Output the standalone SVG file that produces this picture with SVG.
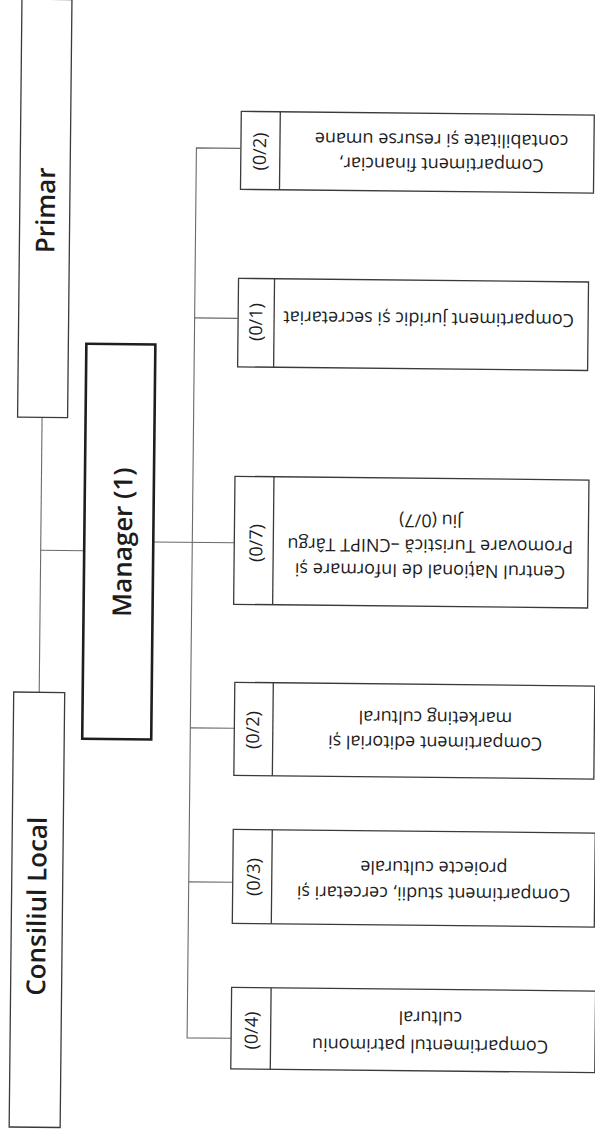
<svg xmlns="http://www.w3.org/2000/svg" width="595" height="1134" viewBox="0 0 595 1134">
<style>
.box{fill:#fff;stroke:#3a3a3a;stroke-width:1.3}
.mgr{fill:#fff;stroke:#1e1e1e;stroke-width:2.6}
.ln{stroke:#6a6a6a;stroke-width:1.1;fill:none}
.t{font-family:"Open Sans","Liberation Sans",sans-serif;font-size:18px;fill:#1c1c1c;text-anchor:middle}
.b{font-weight:600;font-size:26px}
</style>
<rect width="595" height="1134" fill="#fff"/>
<g transform="rotate(0.6 300 570)">
<g id="connectors">
<line class="ln" x1="40.5" y1="420" x2="40.5" y2="695"/>
<line class="ln" x1="40.5" y1="553" x2="84" y2="553"/>
<line class="ln" x1="153" y1="543.5" x2="234" y2="543.5"/>
<polyline class="ln" points="236,149 192,149 192,1039 236,1039"/>
<line class="ln" x1="192" y1="319" x2="235" y2="319"/>
<line class="ln" x1="192" y1="729" x2="236" y2="729"/>
<line class="ln" x1="192" y1="883" x2="236" y2="883"/>
</g>
<g id="primar">
<rect class="box" x="16" y="2" width="50" height="418"/>
<text class="t b" transform="translate(42 213) rotate(-90)" y="9">Primar</text>
</g>
<g id="consiliul-local">
<rect class="box" x="15" y="695" width="51" height="435"/>
<text class="t b" transform="translate(40.5 909) rotate(-90)" y="9">Consiliul Local</text>
</g>
<g id="manager">
<rect class="mgr" x="84" y="346" width="69" height="395"/>
<text class="t b" transform="translate(122.5 544) rotate(-90)" y="9">Manager (1)</text>
</g>
<g id="financiar">
<rect class="box" x="236.5" y="112" width="353" height="78"/>
<line class="box" x1="275.5" y1="112" x2="275.5" y2="190"/>
<text class="t" transform="translate(255.6 152) rotate(-90)" y="6">(0/2)</text>
<g transform="rotate(180 437 150)">
<text class="t" x="437" y="143">Compartiment financiar,</text>
<text class="t" x="437" y="167.5">contabilitate și resurse umane</text>
</g>
</g>
<g id="juridic">
<rect class="box" x="235.5" y="279" width="350" height="88.5"/>
<line class="box" x1="271.5" y1="279" x2="271.5" y2="367.5"/>
<text class="t" transform="translate(253.5 322.5) rotate(-90)" y="6">(0/1)</text>
<g transform="rotate(180 426 317)">
<text class="t" x="426" y="322.5">Compartiment juridic și secretariat</text>
</g>
</g>
<g id="cnipt">
<rect class="box" x="234" y="477" width="354" height="128"/>
<line class="box" x1="273" y1="477" x2="273" y2="605"/>
<text class="t" transform="translate(256 543.5) rotate(-90)" y="6">(0/7)</text>
<g transform="rotate(180 430 543.6)">
<text class="t" x="430" y="524">Centrul Național de Informare și</text>
<text class="t" x="430" y="549">Promovare Turistică –CNIPT Târgu</text>
<text class="t" x="430" y="574">Jiu (0/7)</text>
</g>
</g>
<g id="editorial">
<rect class="box" x="236" y="683" width="360" height="93"/>
<line class="box" x1="274.5" y1="683" x2="274.5" y2="776"/>
<text class="t" transform="translate(254.7 730.5) rotate(-90)" y="6">(0/2)</text>
<g transform="rotate(180 437 728.1)">
<text class="t" x="437" y="721">Compartiment editorial și</text>
<text class="t" x="437" y="746">marketing cultural</text>
</g>
</g>
<g id="studii">
<rect class="box" x="236" y="830" width="362" height="94"/>
<line class="box" x1="275" y1="830" x2="275" y2="924"/>
<text class="t" transform="translate(257 877.5) rotate(-90)" y="6">(0/3)</text>
<g transform="rotate(180 437 878.6)">
<text class="t" x="437" y="871">Compartiment studii, cercetari și</text>
<text class="t" x="437" y="897">proiecte culturale</text>
</g>
</g>
<g id="patrimoniu">
<rect class="box" x="236" y="988" width="364" height="81.5"/>
<line class="box" x1="275.5" y1="988" x2="275.5" y2="1069.5"/>
<text class="t" transform="translate(256.5 1031) rotate(-90)" y="6">(0/4)</text>
<g transform="rotate(180 435 1029.6)">
<text class="t" x="435" y="1021">Compartimentul patrimoniu</text>
<text class="t" x="435" y="1049">cultural</text>
</g>
</g>
</g>
</svg>
